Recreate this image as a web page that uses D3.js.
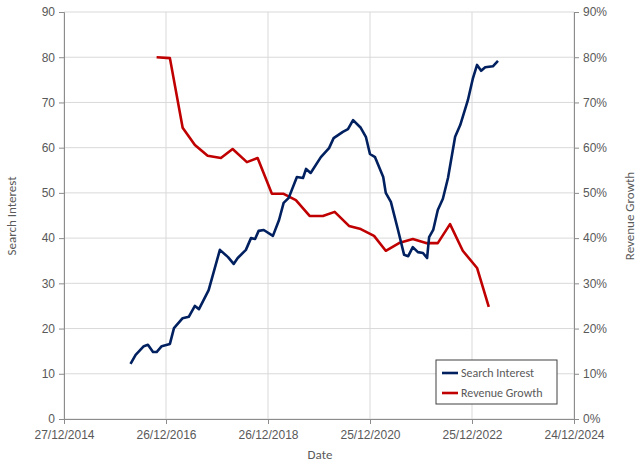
<!DOCTYPE html>
<html><head><meta charset="utf-8">
<script src="https://cdn.jsdelivr.net/npm/d3@7"></script>
<style>body{margin:0;background:#fff;font-family:Calibri,"Liberation Sans",Arial,sans-serif}</style>
</head><body><svg id="chart" width="640" height="465"></svg>
<script>
// x values are decimal years
const searchYears = [2016.29,2016.39,2016.55,2016.63,2016.73,2016.80,2016.90,2017.06,2017.14,2017.31,2017.43,2017.55,2017.63,2017.82,2018.04,2018.20,2018.31,2018.39,2018.55,2018.65,2018.73,2018.80,2018.90,2019.08,2019.20,2019.29,2019.39,2019.55,2019.67,2019.73,2019.82,2020.02,2020.18,2020.27,2020.45,2020.55,2020.65,2020.80,2020.90,2020.98,2021.08,2021.24,2021.29,2021.39,2021.53,2021.65,2021.73,2021.82,2021.92,2022.02,2022.10,2022.14,2022.22,2022.31,2022.41,2022.51,2022.65,2022.75,2022.90,2023.00,2023.08,2023.16,2023.24,2023.39,2023.49];
const searchValues = [12.2,14.2,16.1,16.4,14.8,14.8,16.1,16.6,20.1,22.3,22.6,25,24.3,28.5,37.4,35.8,34.3,35.6,37.4,40,39.8,41.6,41.8,40.5,44,47.8,48.9,53.5,53.3,55.3,54.4,57.9,59.9,62.1,63.5,64.1,66.1,64.4,62.4,58.6,57.9,53.5,50,48,41.8,36.3,36,38,36.9,36.7,35.6,40.2,41.8,46.2,48.7,53.3,62.4,65,70.5,75.4,78.3,77,77.8,78,79.2];
const revenueYears = [2016.80,2017.06,2017.31,2017.55,2017.80,2018.06,2018.29,2018.57,2018.78,2019.06,2019.29,2019.53,2019.80,2020.06,2020.29,2020.57,2020.80,2021.06,2021.29,2021.55,2021.82,2022.08,2022.31,2022.55,2022.80,2023.08,2023.31];
const revenueValues = [80,79.8,64.4,60.6,58.2,57.7,59.7,56.8,57.7,49.8,49.8,48.4,44.9,44.9,45.8,42.7,42,40.5,37.2,38.9,39.8,38.9,38.9,43.1,37.2,33.4,24.8];
const dateTicks = ["2014-12-27","2016-12-26","2018-12-26","2020-12-25","2022-12-25","2024-12-24"];
const leftTicks = [0,10,20,30,40,50,60,70,80,90];
const rightTicks = [0,10,20,30,40,50,60,70,80,90];

const toDate = y => { const yr = Math.floor(y); const a = Date.UTC(yr,0,1), b = Date.UTC(yr+1,0,1); return new Date(a + (y-yr)*(b-a)); };
const parse = d3.utcParse("%Y-%m-%d");
const fmt = d3.utcFormat("%d/%m/%Y");

const svg = d3.select("#chart");
const m = {l:64, r:574, t:12, b:419};
const x = d3.scaleUtc().domain([parse(dateTicks[0]), parse(dateTicks[5])]).range([m.l, m.r]);
const yL = d3.scaleLinear().domain([0,90]).range([m.b, m.t]);
const yR = d3.scaleLinear().domain([0,90]).range([m.b, m.t]);
const grey = "#595959", grid = "#d9d9d9";

// gridlines
svg.append("g").selectAll("line").data(leftTicks).join("line")
  .attr("x1", m.l).attr("x2", m.r).attr("y1", d => yL(d)).attr("y2", d => yL(d))
  .attr("stroke", grid);
svg.append("g").selectAll("line").data(dateTicks).join("line")
  .attr("x1", d => x(parse(d))).attr("x2", d => x(parse(d))).attr("y1", m.t).attr("y2", m.b)
  .attr("stroke", grid);

const styleAxis = g => {
  g.select(".domain").attr("stroke", "#8c8c8c");
  g.selectAll(".tick line").attr("stroke", "#8c8c8c");
  g.selectAll("text").attr("fill", grey).style("font-size", "12px");
};
svg.append("g").attr("transform", `translate(${m.l},0)`)
  .call(d3.axisLeft(yL).tickValues(leftTicks).tickSize(5).tickPadding(4)).call(styleAxis);
svg.append("g").attr("transform", `translate(${m.r},0)`)
  .call(d3.axisRight(yR).tickValues(rightTicks).tickSize(5).tickPadding(4).tickFormat(d => d + "%")).call(styleAxis);
svg.append("g").attr("transform", `translate(0,${m.b})`)
  .call(d3.axisBottom(x).tickValues(dateTicks.map(parse)).tickSize(5).tickPadding(6).tickFormat(fmt)).call(styleAxis);

// titles
svg.append("text").attr("x", 320).attr("y", 459).attr("text-anchor", "middle")
  .attr("fill", grey).style("font-size", "13px").text("Date");
svg.append("text").attr("transform", "translate(16,216) rotate(-90)").attr("text-anchor", "middle")
  .attr("fill", grey).style("font-size", "13px").text("Search Interest");
svg.append("text").attr("transform", "translate(634,216) rotate(-90)").attr("text-anchor", "middle")
  .attr("fill", grey).style("font-size", "13px").text("Revenue Growth");

// lines
const searchLine = d3.line().x((d, i) => x(toDate(searchYears[i]))).y(d => yL(d));
const revLine = d3.line().x((d, i) => x(toDate(revenueYears[i]))).y(d => yR(d));
svg.append("path").datum(revenueValues).attr("d", revLine)
  .attr("fill", "none").attr("stroke", "#c00000").attr("stroke-width", 2.6).attr("stroke-linejoin", "round");
svg.append("path").datum(searchValues).attr("d", searchLine)
  .attr("fill", "none").attr("stroke", "#002060").attr("stroke-width", 2.6).attr("stroke-linejoin", "round");

// legend
const lg = svg.append("g").attr("transform", "translate(436,360)");
lg.append("rect").attr("width", 121).attr("height", 44).attr("fill", "#fff").attr("stroke", "#404040");
[["Search Interest", "#002060"], ["Revenue Growth", "#c00000"]].forEach(([t, c], i) => {
  lg.append("line").attr("x1", 6).attr("x2", 22).attr("y1", 13 + i*20).attr("y2", 13 + i*20)
    .attr("stroke", c).attr("stroke-width", 2.6);
  lg.append("text").attr("x", 25).attr("y", 17 + i*20).attr("fill", grey)
    .style("font-size", "12px").text(t);
});
</script></body></html>
